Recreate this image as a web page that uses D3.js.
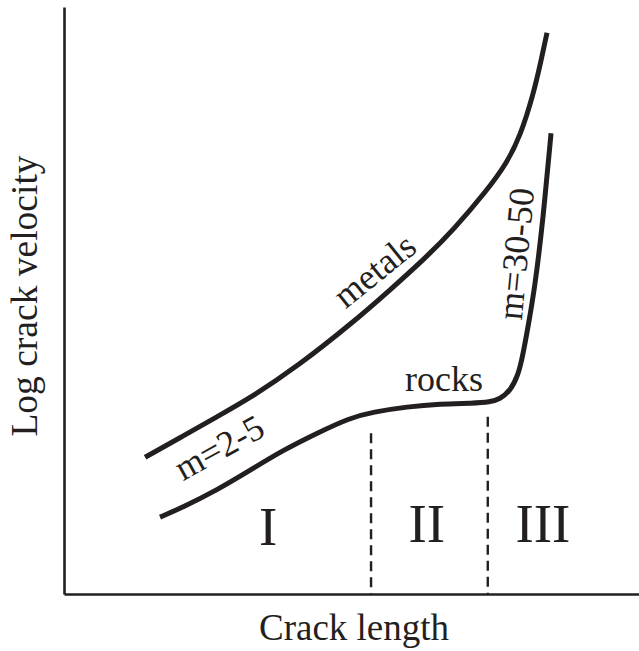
<!DOCTYPE html>
<html>
<head>
<meta charset="utf-8">
<script src="https://cdn.jsdelivr.net/npm/d3@7"></script>
<style>
  html, body { margin: 0; padding: 0; background: #fff; }
  svg { display: block; }
  text { font-family: "Liberation Serif", "Times New Roman", serif; fill: #231f20; }
</style>
</head>
<body>
<svg id="chart" width="639" height="651"></svg>
<script>
// Schematic crack-growth curves (arbitrary units: crack length vs log crack velocity)
const metalsX = [1.41, 2.07, 2.66, 3.24, 4.05, 5.03, 5.67, 6.28, 6.77, 7.36, 7.70, 7.93, 8.16, 8.30, 8.40];
const metalsY = [2.33, 2.69, 3.02, 3.34, 3.87, 4.63, 5.18, 5.72, 6.20, 6.88, 7.34, 7.79, 8.50, 9.10, 9.56];

const rocksX = [1.67, 2.07, 2.66, 3.24, 3.81, 4.40, 4.97, 5.37, 5.97, 6.54, 7.11, 7.41, 7.58, 7.76, 7.90, 7.98, 8.07, 8.19, 8.33, 8.47];
const rocksY = [1.31, 1.48, 1.77, 2.11, 2.45, 2.74, 3.00, 3.10, 3.19, 3.24, 3.25, 3.27, 3.32, 3.46, 3.73, 4.07, 4.55, 5.23, 6.37, 7.85];

// Stage boundaries (crack length) and the height where each dashed line stops
const boundaryX = [5.34, 7.37];
const boundaryTop = [2.74, 3.02];

// Stage labels
const stageNames = ["I", "II", "III"];
const stageX = [3.55, 6.31, 8.33];
const stageY = [0.83, 0.88, 0.88];

const svg = d3.select("#chart");
const ink = "#231f20";

const x = d3.scaleLinear().domain([0, 10]).range([64, 639]);
const y = d3.scaleLinear().domain([0, 10]).range([594, 7]);

// Axes without ticks
svg.append("g")
  .attr("transform", `translate(0,${y(0)})`)
  .call(d3.axisBottom(x).tickValues([]).tickSizeOuter(0))
  .call(g => g.select(".domain").attr("stroke", ink).attr("stroke-width", 2.6));
svg.append("g")
  .attr("transform", `translate(${x(0)},0)`)
  .call(d3.axisLeft(y).tickValues([]).tickSizeOuter(0))
  .call(g => g.select(".domain").attr("stroke", ink).attr("stroke-width", 2.6));

// Dashed stage boundaries
svg.selectAll("line.boundary")
  .data(boundaryX)
  .join("line")
  .attr("class", "boundary")
  .attr("x1", d => x(d)).attr("x2", d => x(d))
  .attr("y1", (d, i) => y(boundaryTop[i])).attr("y2", y(0))
  .attr("stroke", ink)
  .attr("stroke-width", 2.4)
  .attr("stroke-dasharray", "10,6");

// Curves (B-spline through the sampled points for a smooth hand-drawn look)
const line = d3.line()
  .x(d => x(d[0]))
  .y(d => y(d[1]))
  .curve(d3.curveBasis);

const curves = [
  d3.zip(metalsX, metalsY),
  d3.zip(rocksX, rocksY)
];
svg.selectAll("path.curve")
  .data(curves)
  .join("path")
  .attr("class", "curve")
  .attr("d", line)
  .attr("fill", "none")
  .attr("stroke", ink)
  .attr("stroke-width", 5);

// Stage numerals
svg.selectAll("text.stage")
  .data(stageNames)
  .join("text")
  .attr("class", "stage")
  .attr("x", (d, i) => x(stageX[i]))
  .attr("y", (d, i) => y(stageY[i]))
  .attr("text-anchor", "middle")
  .attr("font-size", 55)
  .text(d => d);

// Curve annotations
const notes = [
  { text: "metals", px: 382, py: 280, angle: -39 },
  { text: "rocks", px: 444, py: 391, angle: 0 },
  { text: "m=2-5", px: 225, py: 458, angle: -29 },
  { text: "m=30-50", px: 528, py: 255, angle: -84.5 }
];
svg.selectAll("text.note")
  .data(notes)
  .join("text")
  .attr("class", "note")
  .attr("text-anchor", "middle")
  .attr("font-size", 36)
  .attr("transform", d => `translate(${d.px},${d.py}) rotate(${d.angle})`)
  .text(d => d.text);

// Axis titles
svg.append("text")
  .attr("text-anchor", "middle")
  .attr("font-size", 37)
  .attr("x", 354).attr("y", 640)
  .text("Crack length");
svg.append("text")
  .attr("text-anchor", "middle")
  .attr("font-size", 37.5)
  .attr("transform", "translate(37,296) rotate(-90)")
  .text("Log crack velocity");
</script>
</body>
</html>
